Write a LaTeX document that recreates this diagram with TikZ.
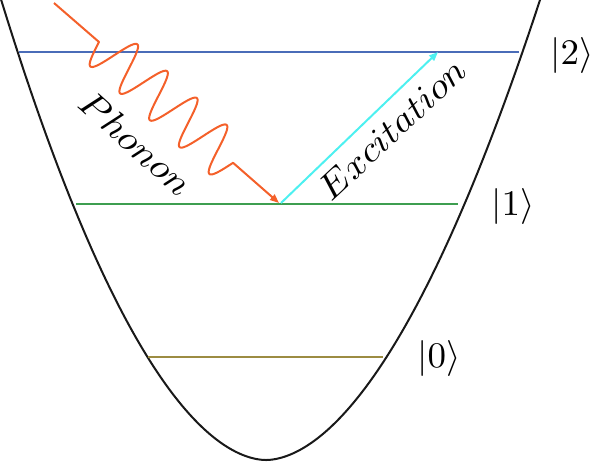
\documentclass[tikz,border=0pt]{standalone}
\usepackage{amsmath}
\usetikzlibrary{arrows.meta}
\definecolor{lvlblue}{RGB}{74,108,184}
\definecolor{lvlgreen}{RGB}{62,158,80}
\definecolor{lvlolive}{RGB}{156,140,66}
\definecolor{phon}{RGB}{244,96,42}
\definecolor{excit}{RGB}{77,240,240}
\tikzset{
  well/.style={draw=black!90, line width=2pt, line join=round},
  level/.style={line width=2pt},
  ket/.style={inner sep=0pt},
  lbl/.style={inner sep=0pt},
  tip/.style={-{Triangle[length=9pt,width=7pt]}}
}
\newcommand{\bigtxt}[3]{\scalebox{#1}[#2]{#3}}
\begin{document}
\begin{tikzpicture}[x=1pt,y=-1pt]
\useasboundingbox (0,0) rectangle (594,461);
% potential well
\draw[well] plot[domain=-21.6:21.6, samples=301, smooth] ({266+0.01*\x*\x+sign(\x)*9.65*pow(abs(\x)+0.0001,1.086)},{460-\x*\x});
% levels
\coordinate (l2a) at (19,52);  \coordinate (l2b) at (519,52);
\coordinate (l1a) at (76,204); \coordinate (l1b) at (458,204);
\coordinate (l0a) at (148,357);\coordinate (l0b) at (383,357);
\draw[level, lvlblue] (l2a) -- (l2b);
\draw[level, lvlgreen] (l1a) -- (l1b);
\draw[level, lvlolive] (l0a) -- (l0b);
% kets
\node[ket] (k2) at (572,55) {\bigtxt{3.7}{3.6}{$|2\rangle$}};
\node[ket] (k1) at (513,206) {\bigtxt{3.7}{3.6}{$|1\rangle$}};
\node[ket] (k0) at (439,358) {\bigtxt{3.7}{3.6}{$|0\rangle$}};
% phonon
\coordinate (ps) at (54,3);
\coordinate (pk) at (99,42);
\coordinate (pe) at (279,203);
\draw[phon, line width=2pt, line join=round, tip] (ps) -- (pk) -- plot[domain=0:180.5, samples=200] ({99+0.742*\x-16.08*sin(8.9776*\x)},{42+0.670*\x+17.81*sin(8.9776*\x)}) -- (pe);
% excitation
\coordinate (es) at (281,203);
\coordinate (ee) at (438,52);
\draw[excit, line width=2pt, tip] (es) -- (ee);
% labels
\node[lbl, rotate=-42] (phl) at (136,143) {\bigtxt{3.9}{3.6}{$Phonon$}};
\node[lbl, rotate=43] (exl) at (392,129) {\bigtxt{3.9}{3.6}{$Excitation$}};
\end{tikzpicture}
\end{document}
